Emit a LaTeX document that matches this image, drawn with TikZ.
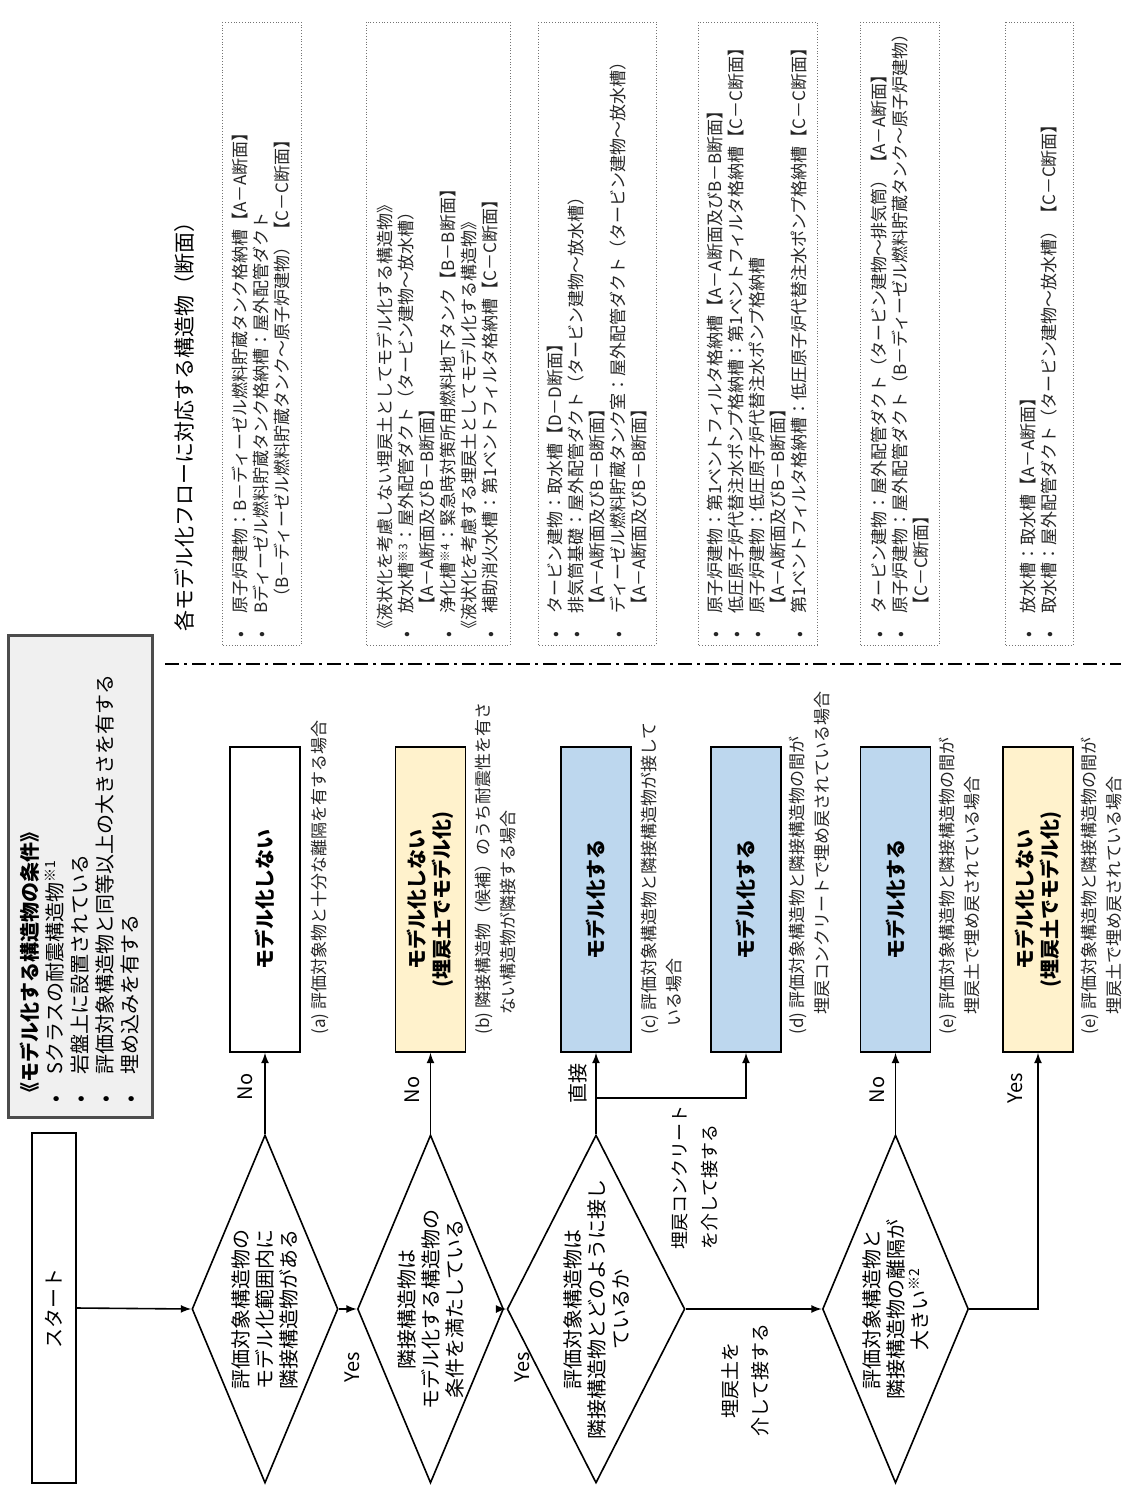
\documentclass[tikz,border=0pt]{standalone}
\usepackage{fontspec}
\setmainfont{Noto Sans CJK JP}
\usetikzlibrary{shapes.geometric}

\definecolor{modelblue}{RGB}{189,215,238}
\definecolor{modelcream}{RGB}{255,242,204}
\definecolor{condgray}{RGB}{240,240,240}

\newcommand{\bl}{\makebox[1.4em][l]{•}}
\newcommand{\ind}{\hspace*{1.4em}}
\newcommand{\kome}[1]{\textsuperscript{※#1}}

\begin{document}
\begin{tikzpicture}[x=0.5pt,y=-0.5pt,>=latex,
    every node/.style={rotate=90},
    decision/.style={draw,diamond,line width=0.8pt,minimum width=174pt,minimum height=73pt,
      inner xsep=-25pt,inner ysep=-12pt,align=center,font=\fontsize{10}{12}\selectfont},
    result/.style={draw,line width=0.8pt,minimum width=152.5pt,minimum height=35pt,
      align=center,font=\bfseries\fontsize{10}{12.5}\selectfont},
    note/.style={anchor=west,inner sep=0pt,align=left,text=black!85,
      font=\fontsize{8.5}{12.5}\selectfont},
    lbl/.style={inner sep=0pt,font=\fontsize{10}{15}\selectfont},
    listbox/.style={draw=black!55,densely dotted,minimum width=311.5pt,text width=304pt,
      inner xsep=3.5pt,align=left,text=black!85,font=\fontsize{8.5}{10.5}\selectfont},
    flow/.style={->,line width=0.8pt}]
    \useasboundingbox (0,0) rectangle (1121,1486);

    % conditions
    \node[draw=black!70,line width=1.5pt,fill=condgray,minimum width=241pt,minimum height=72pt,
      text width=226pt,align=left,font=\fontsize{10}{12.5}\selectfont] (cond) at (80,876)
      {{\bfseries 《モデル化する構造物の条件》}\\
       \bl Sクラスの耐震構造物\kome{1}\\
       \bl 岩盤上に設置されている\\
       \bl 評価対象構造物と同等以上の大きさを有する\\
       \bl 埋め込みを有する};

    % flow
    \node[draw,line width=0.8pt,minimum width=175pt,minimum height=22pt,
      font=\fontsize{10}{12}\selectfont] (start) at (54,1308) {スタート};
    \node[decision] (d1) at (265,1309) {評価対象構造物の\\モデル化範囲内に\\隣接構造物がある};
    \node[decision] (d2) at (430.5,1309) {隣接構造物は\\モデル化する構造物の\\条件を満たしている};
    \node[decision] (d3) at (596,1309) {評価対象構造物は\\隣接構造物とどのように接し\\ているか};
    \node[decision] (d4) at (895.5,1309) {評価対象構造物と\\隣接構造物の離隔が\\大きい\kome{2}};

    \node[result] (r1) at (265,899.5) {モデル化しない};
    \node[result,fill=modelcream] (r2) at (430.5,899.5) {モデル化しない\\(埋戻土でモデル化)};
    \node[result,fill=modelblue] (r3) at (596,899.5) {モデル化する};
    \node[result,fill=modelblue] (r4) at (746,899.5) {モデル化する};
    \node[result,fill=modelblue] (r5) at (895.5,899.5) {モデル化する};
    \node[result,fill=modelcream] (r6) at (1038,899.5) {モデル化しない\\(埋戻土でモデル化)};

    \draw[flow] (start.south) -- (d1.north);
    \draw[flow] (d1.south) -- (d2.north);
    \draw[flow] (d2.south) -- (d3.north);
    \draw[flow] (d3.south) -- (d4.north);
    \draw[flow] (d1.east) -- (r1.west);
    \draw[flow] (d2.east) -- (r2.west);
    \draw[flow] (d3.east) -- (r3.west);
    \draw[flow] (d4.east) -- (r5.west);
    \draw[flow] (d4.south) -| (r6.west);
    \path (d3.east) ++(0,-36) coordinate (j1);
    \draw[flow] (j1) -| (r4.west);

    \node[lbl] (no1) at (245,1087) {No};
    \node[lbl] (no2) at (412,1090) {No};
    \node[lbl] (yes1) at (352,1367) {Yes};
    \node[lbl] (yes2) at (522,1367) {Yes};
    \node[lbl] (direct) at (578,1083) {直接};
    \node[lbl,anchor=west,align=left,font=\fontsize{9}{15}\selectfont] (viacon) at (695,1250)
      {埋戻コンクリート\\を介して接する};
    \node[lbl,align=center,font=\fontsize{9.5}{15}\selectfont] (viasoil) at (745,1380)
      {埋戻土を\\介して接する};
    \node[lbl] (no3) at (877,1090) {No};
    \node[lbl] (yes3) at (1015,1088) {Yes};

    % cases
    \node[note] (na) at (320,1035) {(a) 評価対象物と十分な離隔を有する場合};
    \node[note] (nb) at (495.5,1035) {(b) 隣接構造物（候補）のうち耐震性を有さ\\\hspace*{1.2em}ない構造物が隣接する場合};
    \node[note] (nc) at (662,1035) {(c) 評価対象構造物と隣接構造物が接して\\\hspace*{0.5em}いる場合};
    \node[note] (nd) at (810,1035) {(d) 評価対象構造物と隣接構造物の間が\\\hspace*{1.2em}埋戻コンクリートで埋め戻されている場合};
    \node[note] (ne) at (960,1035) {(e) 評価対象構造物と隣接構造物の間が\\\hspace*{1.2em}埋戻土で埋め戻されている場合};
    \node[note] (nf) at (1102,1035) {(e) 評価対象構造物と隣接構造物の間が\\\hspace*{1.2em}埋戻土で埋め戻されている場合};

    % separator
    \coordinate (sepL) at (165,664);
    \coordinate (sepR) at (1121,664);
    \draw[line width=0.8pt,dash pattern=on 7pt off 2.5pt on 1.5pt off 2.5pt] (sepL) -- (sepR);

    % structures per flow
    \node[anchor=west,inner sep=0pt,font=\fontsize{10.5}{12}\selectfont] (head) at (185,632)
      {各モデル化フローに対応する構造物（断面）};
    \node[listbox,minimum height=39.5pt] (list1) at (261.5,333.5)
      {\bl 原子炉建物：B－ディーゼル燃料貯蔵タンク格納槽【A－A断面】\\
       \bl Bディーゼル燃料貯蔵タンク格納槽：屋外配管ダクト\\
       \ind\hspace*{0.5em}（B－ディーゼル燃料貯蔵タンク～原子炉建物）【C－C断面】};
    \node[listbox,minimum height=72pt] (list2) at (438,333.5)
      {《液状化を考慮しない埋戻土としてモデル化する構造物》\\
       \bl 放水槽\kome{3}：屋外配管ダクト（タービン建物～放水槽）\\
       \ind【A－A断面及びB－B断面】\\
       \bl 浄化槽\kome{4}：緊急時対策所用燃料地下タンク【B－B断面】\\
       《液状化を考慮する埋戻土としてモデル化する構造物》\\
       \bl 補助消火水槽：第1ベントフィルタ格納槽【C－C断面】};
    \node[listbox,minimum height=59pt] (list3) at (597,333.5)
      {\bl タービン建物：取水槽【D－D断面】\\
       \bl 排気筒基礎：屋外配管ダクト（タービン建物～放水槽）\\
       \ind【A－A断面及びB－B断面】\\
       \bl ディーゼル燃料貯蔵タンク室：屋外配管ダクト（タービン建物～放水槽）\\
       \ind【A－A断面及びB－B断面】};
    \node[listbox,minimum height=59.5pt] (list4) at (757.5,333.5)
      {\bl 原子炉建物：第1ベントフィルタ格納槽【A－A断面及びB－B断面】\\
       \bl 低圧原子炉代替注水ポンプ格納槽：第1ベントフィルタ格納槽【C－C断面】\\
       \bl 原子炉建物：低圧原子炉代替注水ポンプ格納槽\\
       \ind【A－A断面及びB－B断面】\\
       \bl 第1ベントフィルタ格納槽：低圧原子炉代替注水ポンプ格納槽【C－C断面】};
    \node[listbox,minimum height=39.5pt] (list5) at (899.5,333.5)
      {\bl タービン建物：屋外配管ダクト（タービン建物～排気筒）【A－A断面】\\
       \bl 原子炉建物：屋外配管ダクト（B－ディーゼル燃料貯蔵タンク～原子炉建物）\\
       \ind【C－C断面】};
    \node[listbox,minimum height=34pt] (list6) at (1039,333.5)
      {\bl 放水槽：取水槽【A－A断面】\\
       \bl 取水槽：屋外配管ダクト（タービン建物～放水槽）【C－C断面】};
\end{tikzpicture}
\end{document}
